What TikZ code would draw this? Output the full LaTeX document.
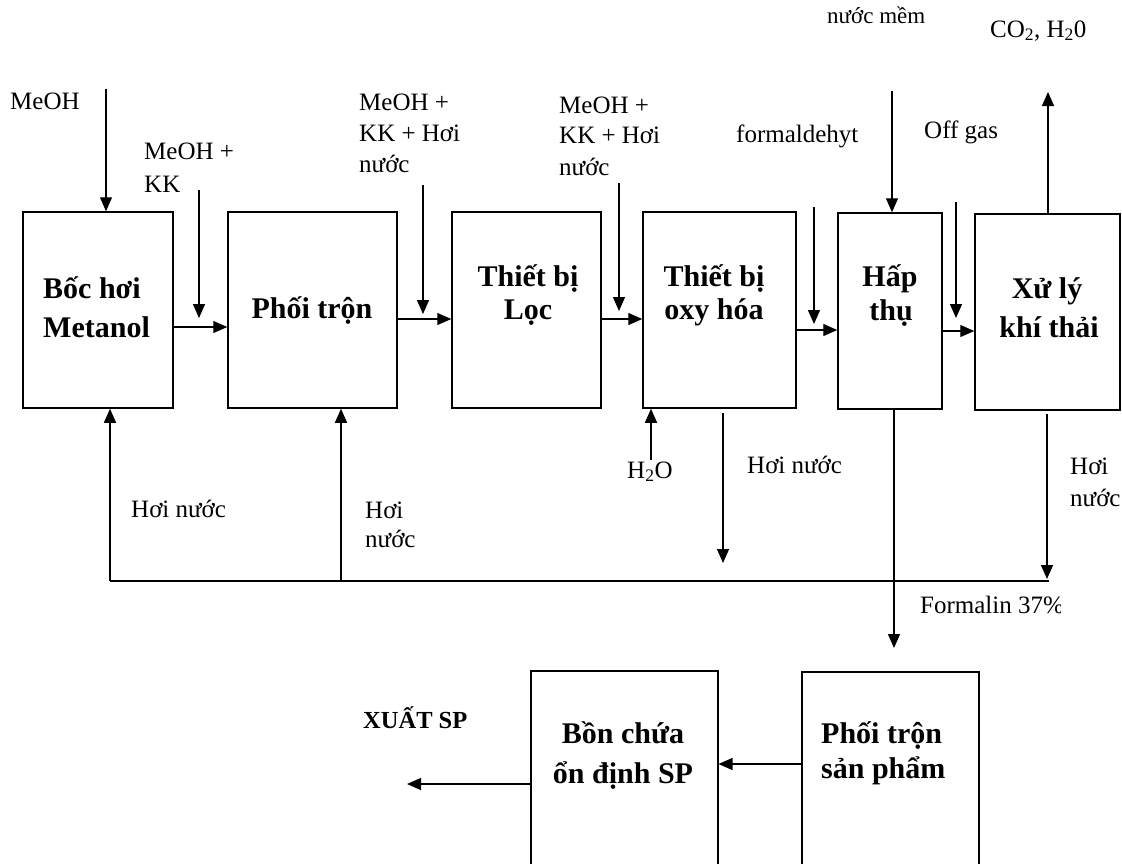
\documentclass[tikz,border=0pt]{standalone}
\usepackage{fontspec}
\setmainfont{Liberation Serif}
\usetikzlibrary{arrows.meta,calc}
\begin{document}
\begin{tikzpicture}[x=1pt,y=-1pt,
  box/.style={draw,line width=1.5pt,inner sep=0pt,rectangle},
  lbl/.style={font=\fontsize{25}{30}\selectfont,inner sep=0pt,anchor=base west},
  btxt/.style={font=\fontsize{30}{36}\selectfont\bfseries,inner sep=0pt,anchor=base},
  arr/.style={line width=1.3pt,-{Triangle[length=14pt,width=12pt]}},
  mainline/.style={line width=1.8pt}]
\useasboundingbox (0,0) rectangle (1122,863);
\clip (0,0) rectangle (1122,863);

% boxes
\node[box,minimum width=150pt,minimum height=196pt] (b1) at (98,310) {};
\node[box,minimum width=169pt,minimum height=196pt] (b2) at (312.5,310) {};
\node[box,minimum width=149pt,minimum height=196pt] (b3) at (526.5,310) {};
\node[box,minimum width=153pt,minimum height=196pt] (b4) at (719.5,310) {};
\node[box,minimum width=104pt,minimum height=196pt] (b5) at (890,311) {};
\node[box,minimum width=145pt,minimum height=196pt] (b6) at (1047.5,312) {};
\node[box,minimum width=187pt,minimum height=260pt,anchor=north west] (b7) at (530,670) {};
\node[box,minimum width=177pt,minimum height=260pt,anchor=north west] (b8) at (801,671) {};

% box texts
\node[btxt,anchor=base west] (t1a) at (43,298) {Bốc hơi};
\node[btxt,anchor=base west] (t1b) at (43,337) {Metanol};
\node[btxt] (t2) at (312,318) {Phối trộn};
\node[btxt] (t3a) at (528,286) {Thiết bị};
\node[btxt] (t3b) at (528,319) {Lọc};
\node[btxt] (t4a) at (714,286) {Thiết bị};
\node[btxt] (t4b) at (714,319) {oxy hóa};
\node[btxt] (t5a) at (890,286) {Hấp};
\node[btxt] (t5b) at (891,320) {thụ};
\node[btxt] (t6a) at (1047,298) {Xử lý};
\node[btxt] (t6b) at (1049,337) {khí thải};
\node[btxt] (t7a) at (623,743) {Bồn chứa};
\node[btxt] (t7b) at (623,783) {ổn định SP};
\node[btxt,anchor=base west] (t8a) at (821,743) {Phối trộn};
\node[btxt,anchor=base west] (t8b) at (821,778) {sản phẩm};
\node[btxt,anchor=base west,font=\fontsize{24.5}{29}\selectfont\bfseries] (xuat) at (363,728) {XUẤT SP};

% labels
\node[lbl] (l1) at (10,109) {MeOH};
\node[lbl] (l2a) at (144,159) {MeOH +};
\node[lbl] (l2b) at (144,192) {KK};
\node[lbl] (l3a) at (359,110) {MeOH +};
\node[lbl] (l3b) at (359,141) {KK + Hơi};
\node[lbl] (l3c) at (359,172) {nước};
\node[lbl] (l4a) at (559,113) {MeOH +};
\node[lbl] (l4b) at (559,143) {KK + Hơi};
\node[lbl] (l4c) at (559,175) {nước};
\node[lbl] (l5) at (736,142) {formaldehyt};
\node[lbl,font=\fontsize{23}{28}\selectfont] (l6) at (827,23) {nước mềm};
\node[lbl] (l7) at (924,138) {Off gas};
\node[lbl] (l8) at (990,37) {CO\textsubscript{2}, H\textsubscript{2}0};
\node[lbl] (l9) at (627,478) {H\textsubscript{2}O};
\node[lbl] (l10) at (747,473) {Hơi nước};
\node[lbl] (l11a) at (1070,474) {Hơi};
\node[lbl] (l11b) at (1070,506) {nước};
\node[lbl] (l12) at (131,517) {Hơi nước};
\node[lbl] (l13a) at (365,518) {Hơi};
\node[lbl] (l13b) at (365,547) {nước};
\begin{scope}
\clip (900,585) rectangle (1060,625);
\node[lbl] (l14) at (920,613) {Formalin 37\%};
\end{scope}

% connectors
\coordinate (s1) at (106,89);
\draw[arr] (s1) -- (s1 |- b1.north);
\coordinate (s2) at (199,190); \coordinate (e2) at (199,318);
\draw[arr] (s2) -- (e2);
\draw[arr] ([yshift=-17pt]b1.east) -- ([yshift=-17pt]b2.west);
\coordinate (s3) at (423,185); \coordinate (e3) at (423,314);
\draw[arr] (s3) -- (e3);
\draw[arr] ([yshift=-9pt]b2.east) -- ([yshift=-9pt]b3.west);
\coordinate (s4) at (619,183); \coordinate (e4) at (619,311);
\draw[arr] (s4) -- (e4);
\draw[arr] ([yshift=-9pt]b3.east) -- ([yshift=-9pt]b4.west);
\coordinate (s5) at (814,207); \coordinate (e5) at (814,324);
\draw[arr] (s5) -- (e5);
\draw[arr] ([yshift=-20pt]b4.east) -- ([yshift=-19pt]b5.west);
\coordinate (s6) at (892,91);
\draw[arr] (s6) -- (s6 |- b5.north);
\coordinate (s7) at (956,202); \coordinate (e7) at (956,318);
\draw[arr] (s7) -- (e7);
\draw[arr] ([yshift=-20pt]b5.east) -- ([yshift=-19pt]b6.west);
\coordinate (e8) at (1048,92);
\draw[arr] (e8 |- b6.north) -- (e8);
\coordinate (s9) at (651,460);
\draw[arr] (s9) -- (s9 |- b4.south);
\coordinate (s10) at (723,413); \coordinate (e10) at (723,563);
\draw[arr] (s10) -- (e10);
\coordinate (s11) at (1047,414); \coordinate (e11) at (1047,579);
\draw[arr] (s11) -- (e11);
\coordinate (j1) at (110,581); \coordinate (j2) at (341,581); \coordinate (j3) at (1049,581);
\draw[mainline] (j1) -- (j3);
\draw[arr] (j1) -- (j1 |- b1.south);
\draw[arr] (j2) -- (j2 |- b2.south);
\coordinate (e12) at (894,648);
\draw[arr] (e12 |- b5.south) -- (e12);
\coordinate (m1) at (801,764);
\draw[arr] (m1 -| b8.west) -- (m1 -| b7.east);
\coordinate (o1) at (407,784);
\draw[arr] (o1 -| b7.west) -- (o1);
\end{tikzpicture}
\end{document}
